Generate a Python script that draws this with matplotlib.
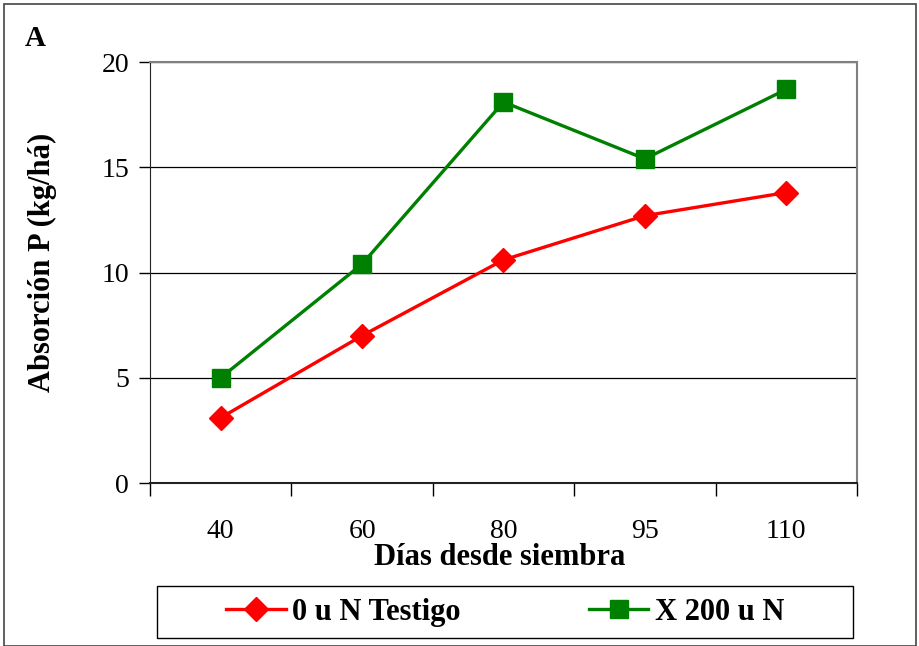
import matplotlib.pyplot as plt
from matplotlib.patches import Rectangle

dias = ["40", "60", "80", "95", "110"]
testigo = [3.1, 7.0, 10.6, 12.7, 13.8]
n200 = [5.0, 10.4, 18.1, 15.4, 18.7]

plt.rcParams["font.family"] = ["Liberation Serif", "DejaVu Serif"]

fig = plt.figure(figsize=(9.2, 6.46), dpi=100)
ax = fig.add_axes([0.163, 0.2523, 0.7685, 0.6517])

x = range(len(dias))
ax.plot(x, testigo, color="#ff0000", lw=2.4, marker="D", markersize=12,
        label="0 u N Testigo", zorder=3)
ax.plot(x, n200, color="#008000", lw=2.4, marker="s", markersize=13,
        label="X 200 u N", zorder=3)

ax.set_xlim(-0.5, len(dias) - 0.5)
ax.set_ylim(0, 20)
ax.set_yticks([0, 5, 10, 15, 20])
ax.set_xticks(x)
ax.set_xticklabels(dias)
ax.set_xticks([i - 0.5 for i in range(len(dias) + 1)], minor=True)
ax.tick_params(axis="x", which="major", length=0, pad=26, labelsize=20)
ax.tick_params(axis="x", which="minor", length=9, width=1, direction="out")
ax.tick_params(axis="y", length=8, width=1, direction="out", pad=7, labelsize=20)

ax.grid(axis="y", color="black", lw=0.9)
ax.set_axisbelow(True)
for s in ["top", "right"]:
    ax.spines[s].set_color("#808080")
    ax.spines[s].set_linewidth(1.5)
ax.spines["left"].set_color("#222222")
ax.spines["bottom"].set_color("#222222")
ax.spines["bottom"].set_linewidth(1.5)

ax.set_xlabel("Días desde siembra", fontsize=22, fontweight="bold", va="top")
ax.xaxis.set_label_coords(0.495, -0.1425)

# y label is clipped at the top in the original
ylab = fig.text(42 / 920, (646 - 392) / 646, "Absorción P (kg/há)", rotation=90,
                fontsize=22, fontweight="bold", ha="center", va="bottom")
clip = Rectangle((0, 0), 0.2, (646 - 129) / 646, transform=fig.transFigure)
ylab.set_clip_path(clip)

fig.text(0.027, 0.94, "A", fontsize=21, fontweight="bold", va="center")

# legend box and outer border
fig.patches.append(Rectangle((157 / 920, 8 / 646), 696 / 920, 52 / 646,
                             transform=fig.transFigure, fill=False,
                             edgecolor="black", lw=1))
fig.patches.append(Rectangle((0.004, 0.0), 0.992, 0.994, transform=fig.transFigure,
                             fill=False, edgecolor="#444444", lw=1.2))
fig.legend(loc="center", bbox_to_anchor=(0.549, 0.0526), ncol=2, frameon=False,
           prop={"size": 22, "weight": "bold"}, columnspacing=4.2,
           handlelength=1.95, handletextpad=0.2, borderpad=0, borderaxespad=0)

fig.savefig("out.png", dpi=100)
